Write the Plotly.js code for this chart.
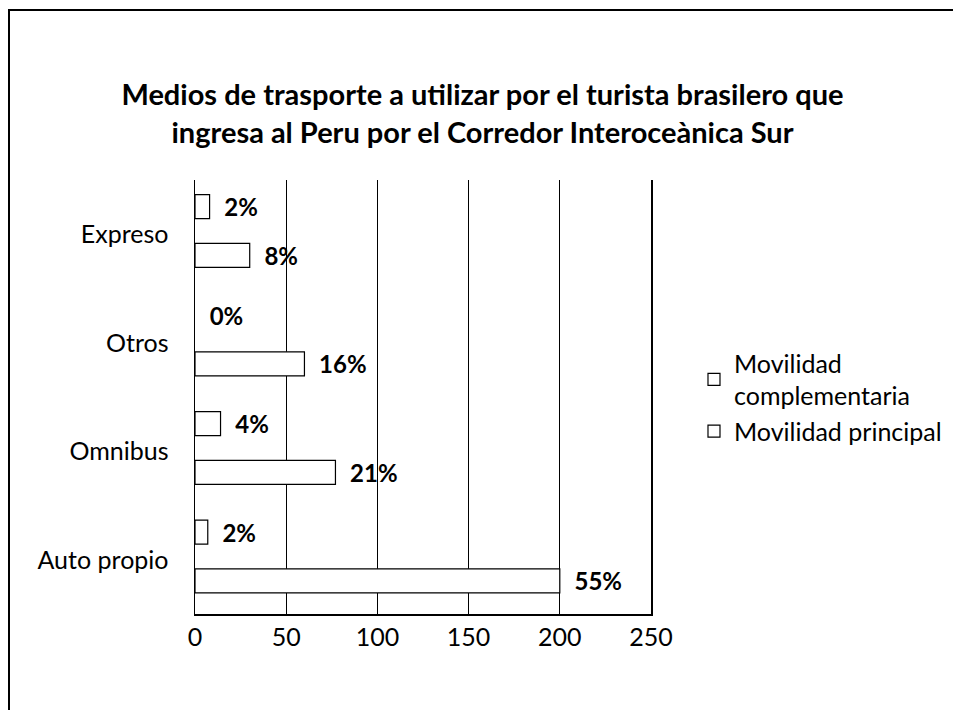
<!DOCTYPE html>
<html>
<head>
<meta charset="utf-8">
<script src="https://cdn.plot.ly/plotly-3.0.1.min.js"></script>
<style>
  html, body { margin: 0; padding: 0; background: #fff; width: 953px; height: 710px; overflow: hidden; }
  #frame { position: absolute; left: 8px; top: 9px; width: 945px; height: 701px;
           border-left: 2px solid #000; border-top: 2px solid #000; }
  #chart { width: 945px; height: 701px; }
</style>
</head>
<body>
<div id="frame"><div id="chart"></div></div>
<script>
const categories = ["Auto propio", "Omnibus", "Otros", "Expreso"];
const principalValues = [200, 77, 60, 30];
const principalLabels = ["55%", "21%", "16%", "8%"];
const complementariaValues = [7, 14, 0, 8];
const complementariaLabels = ["2%", "4%", "0%", "2%"];
const xTicks = [0, 50, 100, 150, 200, 250];

const FONT = "Lato, 'Open Sans', sans-serif";
const pad = "\u00a0\u00a0";
const BAR_W = 0.222;

function lineWidths(vals) { return vals.map(v => (v === 0 ? 0 : 1.2)); }

function makeTrace(name, vals, labels, center, group) {
  return {
    type: "bar",
    orientation: "h",
    name: name,
    legendgroup: group,
    y: categories,
    x: vals,
    text: labels,
    texttemplate: pad + "%{text}",
    width: BAR_W,
    offset: center - BAR_W / 2,
    marker: { color: "#ffffff", line: { color: "#000000", width: lineWidths(vals) } },
    textposition: "outside",
    constraintext: "none",
    cliponaxis: false,
    textfont: { family: FONT, size: 24, color: "#000", weight: "bold" },
    hoverinfo: "skip"
  };
}

const traces = [
  makeTrace("Movilidad principal", principalValues, principalLabels, -0.195, "p"),
  makeTrace("Movilidad<br>complementaria", complementariaValues, complementariaLabels, 0.255, "c")
];

const layout = {
  width: 945,
  height: 701,
  paper_bgcolor: "#ffffff",
  plot_bgcolor: "#ffffff",
  font: { family: FONT, color: "#000" },
  title: {
    text: "Medios de trasporte a utilizar por el turista brasilero que<br>ingresa al Peru por el Corredor Interoceànica Sur",
    font: { family: FONT, size: 29, color: "#000", weight: "bold" },
    x: 0.5, xanchor: "center",
    y: 0.866, yanchor: "middle"
  },
  barmode: "overlay",
  margin: { l: 185, r: 304, t: 169, b: 98 },
  xaxis: {
    range: [0, 250],
    tickvals: xTicks,
    ticktext: xTicks.map(String),
    showgrid: true,
    gridcolor: "#000",
    gridwidth: 1,
    zeroline: false,
    showline: true,
    linecolor: "#000",
    linewidth: 1.5,
    ticks: "",
    ticklabelstandoff: 0,
    tickfont: { family: FONT, size: 25, color: "#000" },
    fixedrange: true
  },
  yaxis: {
    type: "category",
    categoryorder: "array",
    categoryarray: categories,
    showgrid: false,
    zeroline: false,
    showline: true,
    mirror: true,
    linecolor: "#000",
    linewidth: 1.5,
    ticks: "",
    ticklabelstandoff: 20,
    tickfont: { family: FONT, size: 25, color: "#000" },
    fixedrange: true
  },
  showlegend: true,
  legend: {
    xref: "container", yref: "container",
    x: 0.7238, xanchor: "left",
    y: 0.53, yanchor: "top",
    traceorder: "reversed",
    font: { family: FONT, size: 25, color: "#000" },
    itemwidth: 30,
    tracegroupgap: 9,
    bgcolor: "rgba(0,0,0,0)"
  }
};

Plotly.newPlot("chart", traces, layout, { displayModeBar: false, staticPlot: true });
</script>
</body>
</html>
